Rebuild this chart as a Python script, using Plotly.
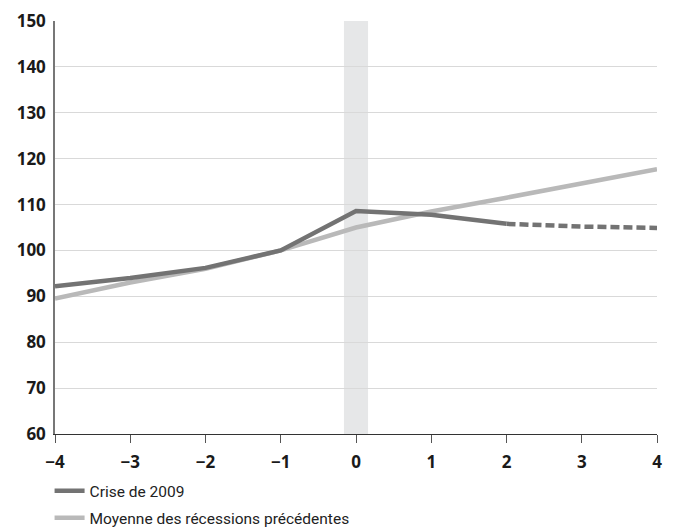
import plotly.graph_objects as go

# data
years = [-4, -3, -2, -1, 0, 1, 2, 3, 4]
crise_2009 = [92.2, 94.0, 96.2, 100.0, 108.6, 107.8, 105.8, 105.2, 104.9]
moyenne = [89.5, 93.0, 96.0, 100.0, 105.0, 108.5, 111.5, 114.5, 117.7]
y_ticks = [60, 70, 80, 90, 100, 110, 120, 130, 140, 150]
x_ticks = [-4, -3, -2, -1, 0, 1, 2, 3, 4]
x_labels = ["\u22124", "\u22123", "\u22122", "\u22121", "0", "1", "2", "3", "4"]
last_observed = 6  # index of x=2, projection starts after

dark = "#737373"
light = "#b9b9b9"
tick_font = dict(family="Open Sans", size=17, weight="bold", color="#1a1a1a")

fig = go.Figure()
fig.add_trace(go.Scatter(
    x=years, y=moyenne, mode="lines", name="Moyenne des récessions précédentes",
    line=dict(color=light, width=4.5), legendgroup="b", legendrank=2))
fig.add_trace(go.Scatter(
    x=years[:last_observed + 1], y=crise_2009[:last_observed + 1], mode="lines",
    name="Crise de 2009", line=dict(color=dark, width=4.5),
    legendgroup="a", legendrank=1))
fig.add_trace(go.Scatter(
    x=years[last_observed:], y=crise_2009[last_observed:], mode="lines",
    line=dict(color=dark, width=4.5, dash="9px,4px"), showlegend=False))

fig.add_shape(type="rect", xref="x", yref="paper", x0=-0.16, x1=0.16, y0=0, y1=1,
              fillcolor="#e6e7e8", line_width=0, layer="between")

# the page body adds an 8px margin, so the figure is a bit smaller than the window
fig.update_layout(
    width=665, height=523,
    margin=dict(l=47, r=16, t=13, b=97, autoexpand=False),
    paper_bgcolor="white", plot_bgcolor="white",
    font=dict(family="Open Sans", color="#1a1a1a"),
    legend=dict(x=-0.009, y=-0.097,
                xanchor="left", yanchor="top", orientation="v",
                font=dict(family="Roboto", size=15.5, color="#222"),
                tracegroupgap=4, bgcolor="rgba(0,0,0,0)"),
    xaxis=dict(range=[-4, 4], tickvals=x_ticks, ticktext=x_labels,
               showgrid=False, zeroline=False, showline=True,
               linecolor="#333", linewidth=1, ticks="outside", ticklen=8,
               tickcolor="#555", tickwidth=1, ticklabelstandoff=5,
               tickfont=tick_font),
    yaxis=dict(range=[60, 150], tickvals=y_ticks, showgrid=True,
               gridcolor="#d9d9d9", gridwidth=1, zeroline=False,
               showline=True, linecolor="#777", linewidth=1.5, ticks="",
               ticklabelstandoff=4, tickfont=tick_font),
)

fig.write_html("out.html")
